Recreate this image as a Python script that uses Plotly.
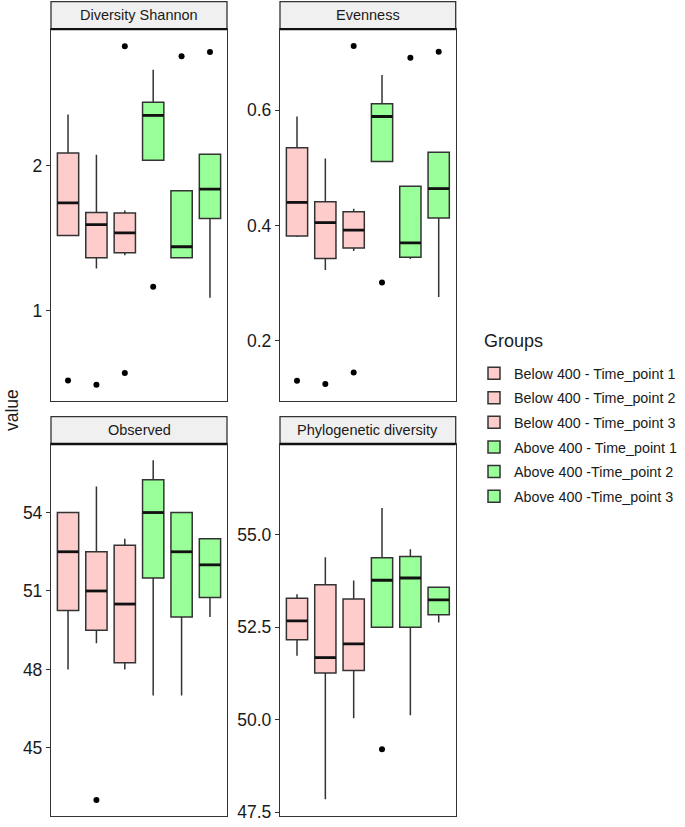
import plotly.graph_objects as go

W, H = 685, 827

groups = ["Below 400 - Time_point 1", "Below 400 - Time_point 2", "Below 400 - Time_point 3",
          "Above 400 - Time_point 1", "Above 400 -Time_point 2", "Above 400 -Time_point 3"]
group_colors = ["#FFCCCC", "#FFCCCC", "#FFCCCC", "#99FF99", "#99FF99", "#99FF99"]

panels = ["Diversity Shannon", "Evenness", "Observed", "Phylogenetic diversity"]

# Diversity Shannon
sh_low = [1.517, 1.290, 1.382, 2.039, 1.364, 1.087]
sh_q1 = [1.517, 1.364, 1.399, 2.039, 1.364, 1.636]
sh_med = [1.744, 1.593, 1.536, 2.348, 1.440, 1.838]
sh_q3 = [2.089, 1.677, 1.673, 2.439, 1.828, 2.080]
sh_high = [2.355, 2.076, 1.691, 2.664, 1.828, 2.080]
sh_out = [[0.515], [0.486], [2.826, 0.568], [1.163], [2.758], [2.787]]

# Evenness
ev_low = [0.380, 0.323, 0.356, 0.511, 0.342, 0.276]
ev_q1 = [0.382, 0.343, 0.361, 0.511, 0.345, 0.413]
ev_med = [0.440, 0.405, 0.392, 0.589, 0.370, 0.464]
ev_q3 = [0.535, 0.441, 0.424, 0.611, 0.468, 0.527]
ev_high = [0.589, 0.516, 0.429, 0.661, 0.468, 0.527]
ev_out = [[0.131], [0.125], [0.711, 0.145], [0.301], [0.691], [0.701]]

# Observed
ob_low = [48.0, 49.0, 48.0, 47.0, 47.0, 50.0]
ob_q1 = [50.25, 49.5, 48.25, 51.5, 50.0, 50.75]
ob_med = [52.5, 51.0, 50.5, 54.0, 52.5, 52.0]
ob_q3 = [54.0, 52.5, 52.75, 55.25, 54.0, 53.0]
ob_high = [54.0, 55.0, 53.0, 56.0, 54.0, 53.0]
ob_out = [[], [43.0], [], [], [], []]

# Phylogenetic diversity
pd_low = [51.73, 47.85, 50.04, 52.50, 50.12, 52.63]
pd_q1 = [52.16, 51.26, 51.33, 52.50, 52.50, 52.84]
pd_med = [52.67, 51.68, 52.05, 53.77, 53.83, 53.24]
pd_q3 = [53.28, 53.65, 53.26, 54.38, 54.41, 53.58]
pd_high = [53.39, 54.39, 53.76, 55.72, 54.61, 53.60]
pd_out = [[], [], [], [49.2], [], []]

stats = [
    (sh_low, sh_q1, sh_med, sh_q3, sh_high, sh_out),
    (ev_low, ev_q1, ev_med, ev_q3, ev_high, ev_out),
    (ob_low, ob_q1, ob_med, ob_q3, ob_high, ob_out),
    (pd_low, pd_q1, pd_med, pd_q3, pd_high, pd_out),
]

y_ranges = [[0.371, 2.945], [0.0951, 0.7405], [42.38, 56.62], [47.39, 57.45]]
y_ticks = [[1, 2], [0.2, 0.4, 0.6], [45, 48, 51, 54], [47.5, 50.0, 52.5, 55.0]]
y_ticktext = [["1", "2"], ["0.2", "0.4", "0.6"], ["45", "48", "51", "54"], ["47.5", "50.0", "52.5", "55.0"]]

# layout geometry in pixels
px_cols = [(51, 227), (280, 455.7)]
px_rows = [(29.3, 404.3), (447.3, 822.3)]
strip_h = 27.6

BOX_W = 0.75
xpos = list(range(len(groups)))
FONT = "Liberation Sans, Arial, sans-serif"

fig = go.Figure()
layout_axes = {}
shapes = []
annotations = []

for p, name in enumerate(panels):
    r, c = divmod(p, 2)
    idx = p + 1
    xa = "x" if idx == 1 else f"x{idx}"
    ya = "y" if idx == 1 else f"y{idx}"
    low, q1, med, q3, high, out = stats[p]
    for g in range(len(groups)):
        fig.add_trace(go.Box(
            x=[xpos[g]], q1=[q1[g]], median=[med[g]], q3=[q3[g]],
            lowerfence=[low[g]], upperfence=[high[g]],
            width=BOX_W, fillcolor=group_colors[g],
            line=dict(color="#333333", width=1.5), whiskerwidth=0,
            boxpoints=False, name=groups[g], legendgroup=groups[g],
            showlegend=(p == 0), xaxis=xa, yaxis=ya, hoverinfo="skip",
        ))
        fig.add_trace(go.Scatter(
            x=[xpos[g] - BOX_W / 2, xpos[g] + BOX_W / 2], y=[med[g], med[g]],
            mode="lines", line=dict(color="#111111", width=2.8),
            showlegend=False, xaxis=xa, yaxis=ya, hoverinfo="skip",
        ))
        if out[g]:
            fig.add_trace(go.Scatter(
                x=[xpos[g]] * len(out[g]), y=out[g], mode="markers",
                marker=dict(color="black", size=6),
                showlegend=False, xaxis=xa, yaxis=ya, hoverinfo="skip",
            ))
    x0, x1 = px_cols[c]
    y0, y1 = px_rows[r]
    xd = [x0 / W, x1 / W]
    yd = [1 - y1 / H, 1 - y0 / H]
    layout_axes["xaxis" if idx == 1 else f"xaxis{idx}"] = dict(
        domain=xd, anchor=ya, range=[-0.6, len(groups) - 0.4],
        showticklabels=False, ticks="", showgrid=False, zeroline=False,
        showline=True, mirror=True, linecolor="#333333", linewidth=1.3,
    )
    layout_axes["yaxis" if idx == 1 else f"yaxis{idx}"] = dict(
        domain=yd, anchor=xa, range=y_ranges[p],
        tickvals=y_ticks[p], ticktext=y_ticktext[p],
        ticks="outside", ticklen=4, tickcolor="#333333", tickwidth=1.1,
        tickfont=dict(size=17.5, color="#1a1a1a", family=FONT),
        ticklabeloverflow="allow",
        showgrid=False, zeroline=False,
        showline=True, mirror=True, linecolor="#333333", linewidth=1.3,
    )
    # strip
    sy0 = y0 - strip_h
    shapes.append(dict(type="rect", xref="paper", yref="paper",
                       x0=x0 / W, x1=x1 / W, y0=1 - y0 / H, y1=1 - sy0 / H,
                       fillcolor="#F0F0F0", line=dict(color="#333333", width=1.3), layer="above"))
    shapes.append(dict(type="line", xref="paper", yref="paper",
                       x0=x0 / W, x1=x1 / W, y0=1 - y0 / H, y1=1 - y0 / H,
                       line=dict(color="#111111", width=2.4), layer="above"))
    annotations.append(dict(text=name, xref="paper", yref="paper",
                            x=(x0 + x1) / 2 / W, y=1 - (sy0 + y0) / 2 / H,
                            xanchor="center", yanchor="middle", showarrow=False,
                            font=dict(size=14.5, color="#1a1a1a", family=FONT)))

annotations.append(dict(text="value", xref="paper", yref="paper", x=12 / W, y=1 - 413 / H,
                        textangle=-90, showarrow=False, xanchor="center", yanchor="middle",
                        font=dict(size=17.5, color="#1a1a1a", family=FONT)))
# legend title
annotations.append(dict(text="Groups", xref="paper", yref="paper", x=482 / W, y=1 - 343 / H,
                        showarrow=False, xanchor="left", yanchor="middle",
                        font=dict(size=18, color="#1a1a1a", family=FONT)))

fig.update_layout(
    width=W, height=H, margin=dict(l=0, r=0, t=0, b=0),
    paper_bgcolor="white", plot_bgcolor="white",
    boxmode="overlay", shapes=shapes, annotations=annotations,
    font=dict(family=FONT, color="#1a1a1a"),
    legend=dict(
        x=474 / W, y=1 - 360 / H, xanchor="left", yanchor="top",
        font=dict(size=14.3), traceorder="grouped", tracegroupgap=3,
        bgcolor="rgba(0,0,0,0)",
    ),
    **layout_axes,
)

fig.write_html("out.html", config={"displayModeBar": False})

# remove default browser body margin so the figure sits at the page origin
with open("out.html", "r", encoding="utf-8") as f:
    html = f.read()
html = html.replace("<head>", "<head><style>html,body{margin:0;padding:0;overflow:hidden;}</style>", 1)
with open("out.html", "w", encoding="utf-8") as f:
    f.write(html)
